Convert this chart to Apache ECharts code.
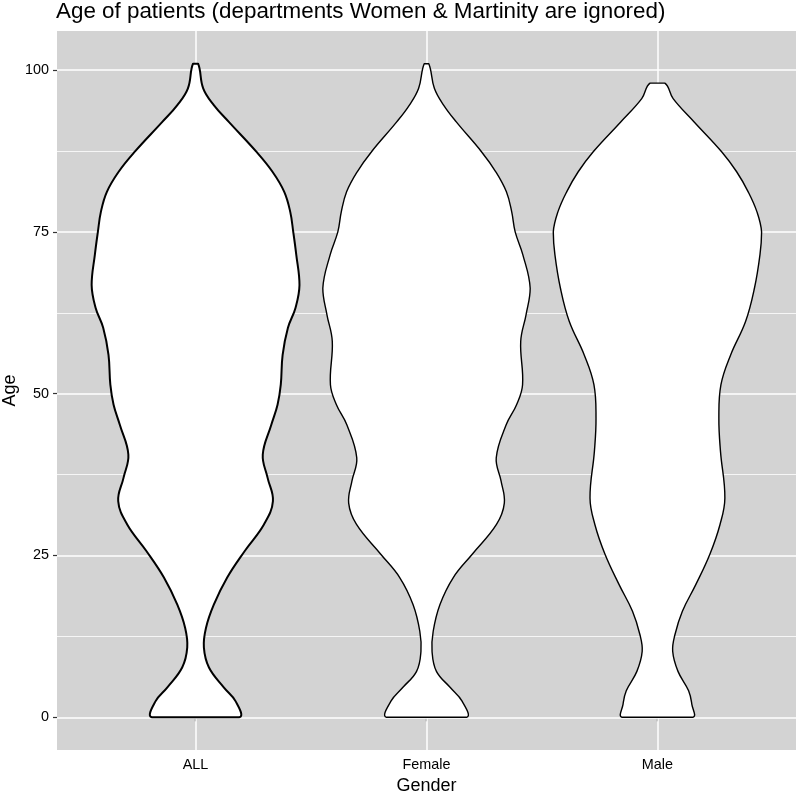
<!DOCTYPE html>
<html><head><meta charset="utf-8">
<script src="https://cdn.jsdelivr.net/npm/echarts@6/dist/echarts.min.js"></script>
<style>html,body{margin:0;padding:0;background:#fff}#c{width:797px;height:794px}</style>
</head><body><div id="c"></div>
<script>
const categories = ['ALL', 'Female', 'Male'];
const yTicks = [0, 25, 50, 75, 100];
const yMinorTicks = [12.5, 37.5, 62.5, 87.5];

// Violin outlines: age values and half-widths (in category units)
const allAges = [0, 2.5, 4.6, 7.7, 10.8, 13.8, 17.4, 21.6, 25.7, 29.8, 33.4, 37, 40.6, 45.2, 48.3, 51.4, 56, 60.2, 63.3, 66.8, 71.5, 75, 78.1, 81.2, 84.3, 87.4, 92, 94.6, 97.2, 101];
const allHalfWidth = [0.189, 0.173, 0.123, 0.058, 0.036, 0.045, 0.079, 0.137, 0.213, 0.296, 0.335, 0.312, 0.291, 0.328, 0.355, 0.369, 0.377, 0.400, 0.433, 0.450, 0.436, 0.423, 0.410, 0.384, 0.333, 0.263, 0.144, 0.079, 0.033, 0.011];

const femaleAges = [0, 2.5, 4.6, 7.1, 10.2, 13.3, 17.4, 21.6, 25.2, 29.8, 33.1, 36.5, 40.1, 45.2, 48.3, 51.4, 58.1, 62.2, 66.3, 71.5, 75, 78.1, 81.2, 84.3, 87.4, 92, 94.6, 97.2, 101];
const femaleHalfWidth = [0.173, 0.154, 0.103, 0.043, 0.024, 0.029, 0.058, 0.116, 0.198, 0.303, 0.337, 0.323, 0.302, 0.345, 0.390, 0.416, 0.408, 0.431, 0.449, 0.417, 0.384, 0.369, 0.346, 0.300, 0.238, 0.129, 0.074, 0.034, 0.010];

const maleAges = [0, 2.0, 4.1, 7.1, 10.2, 12.8, 16.4, 20.5, 25.2, 29.8, 33.9, 41.1, 46.2, 51.4, 56, 61.2, 66.3, 71.5, 75, 78.1, 81.2, 84.3, 87.4, 92, 95.6, 98];
const maleHalfWidth = [0.153, 0.149, 0.135, 0.089, 0.066, 0.076, 0.108, 0.166, 0.227, 0.271, 0.292, 0.273, 0.266, 0.275, 0.317, 0.382, 0.420, 0.444, 0.451, 0.431, 0.393, 0.343, 0.278, 0.159, 0.068, 0.032];

const violins = [
  {ages: allAges, hw: allHalfWidth, lw: 2},
  {ages: femaleAges, hw: femaleHalfWidth, lw: 1.4},
  {ages: maleAges, hw: maleHalfWidth, lw: 1.4}
];

const chart = echarts.init(document.getElementById('c'), null, {renderer: 'canvas'});
const FONT = '"Liberation Sans", Arial, Helvetica, sans-serif';

const majorLines = yTicks.map(v => ({yAxis: v})).concat(categories.map((c, i) => ({xAxis: i + 1})));
const minorLines = yMinorTicks.map(v => ({yAxis: v}));

chart.setOption({
  animation: false,
  backgroundColor: '#ffffff',
  title: {
    text: 'Age of patients (departments Women & Martinity are ignored)',
    left: 56, top: 1, padding: 0,
    textStyle: {fontFamily: FONT, fontSize: 22.4, fontWeight: 'normal', color: '#000'}
  },
  grid: {left: 57, right: 1, top: 31, bottom: 44, show: true, backgroundColor: '#D3D3D3', borderWidth: 0,
    containLabel: false, outerBoundsMode: 'none'},
  xAxis: {
    type: 'value', min: 0.4, max: 3.6,
    name: 'Gender', nameLocation: 'middle', nameGap: 27, nameMoveOverlap: false,
    nameTextStyle: {fontFamily: FONT, fontSize: 18, color: '#000'},
    axisLine: {show: false},
    splitLine: {show: false},
    axisTick: {show: true, customValues: [1, 2, 3], length: 4, lineStyle: {color: '#333', width: 1.2}},
    axisLabel: {customValues: [1, 2, 3], formatter: v => categories[Math.round(v) - 1], margin: 8,
      fontFamily: FONT, fontSize: 14.4, color: '#000'}
  },
  yAxis: {
    type: 'value', min: -5.05, max: 106.05,
    name: 'Age', nameLocation: 'middle', nameGap: 38, nameRotate: 90, nameMoveOverlap: false,
    nameTextStyle: {fontFamily: FONT, fontSize: 18, color: '#000'},
    axisLine: {show: false},
    splitLine: {show: false},
    axisTick: {show: true, customValues: yTicks, length: 4, lineStyle: {color: '#333', width: 1.2}},
    axisLabel: {customValues: yTicks, margin: 8, fontFamily: FONT, fontSize: 14.4, color: '#000'}
  },
  series: [
    {
      type: 'line', data: [], silent: true, z: 1,
      markLine: {silent: true, symbol: 'none', z: 1, animation: false, label: {show: false},
        lineStyle: {color: '#ffffff', width: 0.8, type: 'solid'}, data: minorLines}
    },
    {
      type: 'line', data: [], silent: true, z: 1,
      markLine: {silent: true, symbol: 'none', z: 1, animation: false, label: {show: false},
        lineStyle: {color: '#ffffff', width: 1.5, type: 'solid'}, data: majorLines}
    },
    {
      type: 'custom', z: 5,
      data: categories.map((c, i) => [i + 1]),
      renderItem: function (params, api) {
        const v = violins[params.dataIndex];
        const cx = api.value(0);
        const left = [], right = [];
        for (let k = 0; k < v.ages.length; k++) {
          left.push(api.coord([cx - v.hw[k], v.ages[k]]));
          right.push(api.coord([cx + v.hw[k], v.ages[k]]));
        }
        const pts = left.concat(right.reverse());
        let minX = Infinity, minY = Infinity, maxX = -Infinity, maxY = -Infinity;
        pts.forEach(p => { minX = Math.min(minX, p[0]); maxX = Math.max(maxX, p[0]); minY = Math.min(minY, p[1]); maxY = Math.max(maxY, p[1]); });
        return {
          type: 'polygon',
          shape: {points: pts, smooth: 0.4, smoothConstraint: [[minX, minY], [maxX, maxY]]},
          style: {fill: '#ffffff', stroke: '#000000', lineWidth: v.lw, lineJoin: 'round'}
        };
      }
    }
  ]
});
</script>
</body></html>
